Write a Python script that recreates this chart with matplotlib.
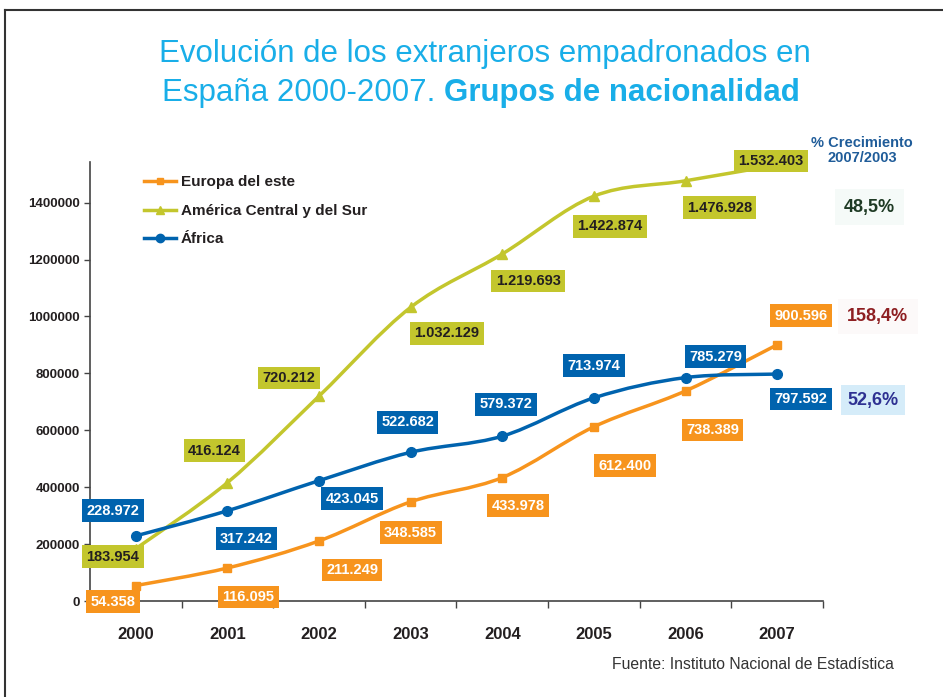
import matplotlib
matplotlib.use("Agg")
import matplotlib.pyplot as plt
from matplotlib.path import Path
from matplotlib.patches import PathPatch
from matplotlib.lines import Line2D
import numpy as np

plt.rcParams['font.family'] = ['Liberation Sans', 'DejaVu Sans']

years = ['2000', '2001', '2002', '2003', '2004', '2005', '2006', '2007']
europa = [54358, 116095, 211249, 348585, 433978, 612400, 738389, 900596]
america = [183954, 416124, 720212, 1032129, 1219693, 1422874, 1476928, 1532403]
africa = [228972, 317242, 423045, 522682, 579372, 713974, 785279, 797592]
series_names = ['Europa del este', 'América Central y del Sur', 'África']
growth = ['48,5%', '158,4%', '52,6%']

c_eur = '#F7941D'
c_ame = '#C3C62D'
c_afr = '#0063AE'

# label offsets (pixels) relative to each point
off_eur = [(-23, -16), (21, -29), (33, -29), (0, -31), (16, -28), (31, -39), (27, -39), (24, 29)]
off_ame = [(-23, -8), (-13, 32), (-30, 18), (36, -26), (26, -27), (16, -30), (34, -27), (-6, 4)]
off_afr = [(-23, 25), (19, -28), (33, -18), (-3, 30), (4, 32), (0, 32), (30, 21), (24, -25)]


def fmt(v):
    return f"{v:,}".replace(',', '.')


def smooth_path(xs, ys, t=1/6):
    # catmull-rom style bezier through the points
    verts = [(xs[0], ys[0])]
    codes = [Path.MOVETO]
    n = len(xs)
    for i in range(n - 1):
        x0, y0 = xs[max(i - 1, 0)], ys[max(i - 1, 0)]
        x1, y1 = xs[i], ys[i]
        x2, y2 = xs[i + 1], ys[i + 1]
        x3, y3 = xs[min(i + 2, n - 1)], ys[min(i + 2, n - 1)]
        verts += [(x1 + (x2 - x0) * t, y1 + (y2 - y0) * t),
                  (x2 - (x3 - x1) * t, y2 - (y3 - y1) * t),
                  (x2, y2)]
        codes += [Path.CURVE4] * 3
    return Path(verts, codes)


fig = plt.figure(figsize=(9.43, 6.97), dpi=100)
ax = fig.add_axes([0.0954, 0.1377, 0.7773, 0.6299])

x = np.arange(len(years))
handles = []
for vals, col, mk, ms, name in [(europa, c_eur, 's', 6, series_names[0]),
                                (america, c_ame, '^', 7, series_names[1]),
                                (africa, c_afr, 'o', 7, series_names[2])]:
    ax.add_patch(PathPatch(smooth_path(x, vals), facecolor='none', edgecolor=col, lw=2.5, zorder=3))
    ax.plot(x, vals, linestyle='none', marker=mk, ms=ms, color=col, zorder=4)
    handles.append(Line2D([], [], color=col, lw=2.5, marker=mk, ms=ms - 1, label=name))

for vals, offs, fc, tc in [(europa, off_eur, c_eur, 'white'),
                           (america, off_ame, c_ame, '#231F20'),
                           (africa, off_afr, c_afr, 'white')]:
    for i, v in enumerate(vals):
        ax.annotate(fmt(v), (x[i], v), xytext=offs[i], textcoords='offset pixels',
                    ha='center', va='center', fontsize=10.5, fontweight='bold', color=tc,
                    bbox=dict(boxstyle='square,pad=0.3', fc=fc, ec='none'),
                    zorder=6, annotation_clip=False)

ax.set_xlim(-0.5, 7.5)
ax.set_ylim(0, 1543000)
ax.set_yticks(np.arange(0, 1400001, 200000))
ax.set_yticklabels([str(v) for v in range(0, 1400001, 200000)], fontsize=9.5, fontweight='bold', color='#231F20')
ax.set_xticks(x)
ax.set_xticklabels(years, fontsize=12, fontweight='bold', color='#231F20')
ax.set_xticks(np.arange(-0.5, 8, 1), minor=True)
ax.tick_params(axis='x', which='major', length=0, pad=19)
ax.tick_params(axis='x', which='minor', length=5, width=1, color='#444444', direction='out')
ax.tick_params(axis='y', length=4, width=1, color='#444444', pad=3)
for s in ['top', 'right']:
    ax.spines[s].set_visible(False)
for s in ['left', 'bottom']:
    ax.spines[s].set_color('#444444')
    ax.spines[s].set_linewidth(1.2)

leg = fig.legend(handles=handles, loc='upper left', bbox_to_anchor=(0.138, 0.768), frameon=False,
                 handlelength=2.1, handletextpad=0.3, labelspacing=0.95,
                 prop={'size': 11, 'weight': 'bold'})
for t in leg.get_texts():
    t.set_color('#231F20')

tcol = '#19AEE8'
fig.text(0.514, 0.922, 'Evolución de los extranjeros empadronados en', ha='center', va='center',
         fontsize=22.5, color=tcol)
t1 = fig.text(0.172, 0.866, 'España 2000-2007. ', ha='left', va='center', fontsize=22.5, color=tcol)
fig.canvas.draw()
bb = t1.get_window_extent()
fig.text(bb.x1 / fig.bbox.width, 0.866, 'Grupos de nacionalidad', ha='left', va='center',
         fontsize=22.5, fontweight='bold', color=tcol)

fig.text(0.914, 0.784, '% Crecimiento\n2007/2003', ha='center', va='center', fontsize=10.5,
         fontweight='bold', color='#1F5C99', linespacing=1.1)
fig.text(0.922, 0.703, growth[0], ha='center', va='center', fontsize=13, fontweight='bold',
         color='#1E3A24', bbox=dict(boxstyle='square,pad=0.5', fc='#F5FAF8', ec='none'))
fig.text(0.931, 0.546, growth[1], ha='center', va='center', fontsize=13, fontweight='bold',
         color='#8E1F22', bbox=dict(boxstyle='square,pad=0.5', fc='#FCF9F9', ec='none'))
fig.text(0.926, 0.426, growth[2], ha='center', va='center', fontsize=13, fontweight='bold',
         color='#2E3192', bbox=dict(boxstyle='square,pad=0.35', fc='#D5ECF9', ec='none'))

fig.text(0.798, 0.047, 'Fuente: Instituto Nacional de Estadística', ha='center', va='center',
         fontsize=11.3, color='#333333')

# outer frame (top and left edges)
fig.add_artist(Line2D([0.005, 1.0], [0.986, 0.986], color='#333333', lw=1.5, transform=fig.transFigure))
fig.add_artist(Line2D([0.005, 0.005], [0.0, 0.986], color='#333333', lw=1.5, transform=fig.transFigure))

fig.savefig('out.png', dpi=100)
